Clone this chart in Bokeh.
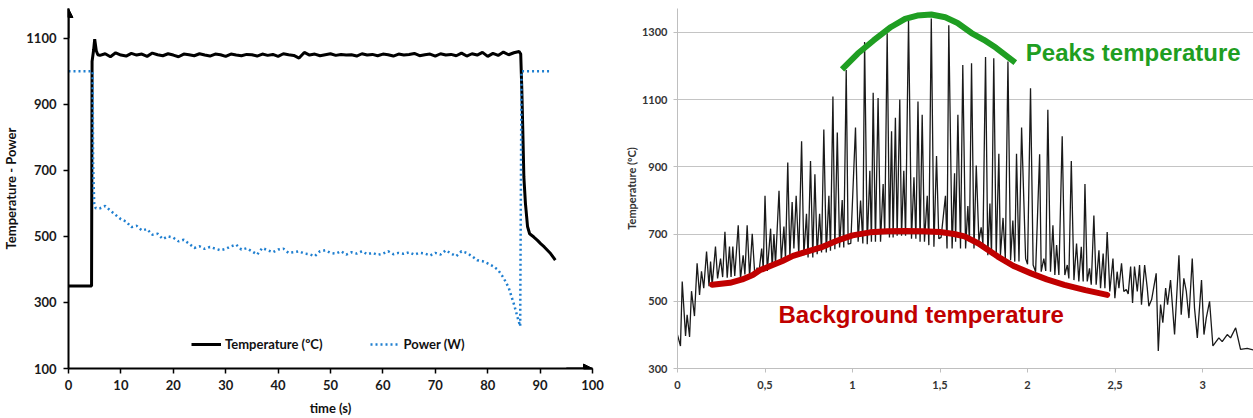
from bokeh.plotting import figure
from bokeh.layouts import row
from bokeh.models import FixedTicker, Arrow, NormalHead, Label, Legend, LegendItem
from bokeh.embed import file_html
from bokeh.resources import INLINE

# ---------------- Left chart data ----------------
left_x_ticks = [0, 10, 20, 30, 40, 50, 60, 70, 80, 90, 100]
left_y_ticks = [100, 300, 500, 700, 900, 1100]

temp_t = ([0, 4.4, 4.5, 4.8, 5.0, 5.3, 5.6]
          + list(range(6, 87))
          + [86.3, 86.5, 86.7, 86.9, 87.2, 87.6, 88.0, 88.8, 89.5, 90.1, 90.8, 91.4, 92.0, 92.6, 92.9])
temp_v = ([350, 350, 1030, 1065, 1097, 1062, 1050]
          + [1048, 1053, 1044, 1056, 1049, 1046, 1054, 1049, 1052, 1045,
             1055, 1050, 1047, 1053, 1049, 1044, 1052, 1050, 1047, 1053,
             1049, 1046, 1052, 1050, 1045, 1052, 1049, 1047, 1051, 1050,
             1046, 1052, 1048, 1051, 1045, 1053, 1050, 1048, 1040, 1057,
             1049, 1052, 1047, 1050, 1053, 1048, 1051, 1049, 1050, 1046,
             1053, 1049, 1051, 1047, 1052, 1050, 1046, 1052, 1049, 1051,
             1054, 1047, 1050, 1052, 1046, 1053, 1049, 1051, 1047, 1055,
             1046, 1053, 1049, 1057, 1045, 1054, 1048, 1058, 1050, 1056,
             1060]
          + [1052, 950, 820, 680, 600, 530, 508, 498, 488, 478, 468, 458, 448, 435, 428])

pow_t = ([0, 4.6, 4.7, 4.9, 5.2]
         + list(range(6, 86))
         + [85.7, 86.2, 86.45, 92.1])
pow_v = ([1000, 1000, 720, 600, 585]
         + [585, 592, 578, 565, 552, 545, 528, 532, 518, 522,
            505, 508, 492, 500, 496, 485, 490, 478, 465, 470,
            462, 468, 463, 458, 462, 470, 475, 460, 464, 455,
            445, 465, 458, 452, 460, 463, 450, 452, 455, 448,
            446, 440, 455, 458, 450, 448, 455, 445, 452, 448,
            455, 446, 450, 444, 448, 455, 446, 450, 447, 452,
            445, 450, 448, 442, 450, 445, 458, 448, 440, 455,
            450, 440, 428, 425, 418, 410, 398, 375, 345, 295]
         + [255, 228, 1000, 1000])

# ---------------- Right chart data ----------------
right_x_ticks = [0, 0.5, 1, 1.5, 2, 2.5, 3]
right_x_labels = ["0", "0,5", "1", "1,5", "2", "2,5", "3"]
right_y_ticks = [300, 500, 700, 900, 1100, 1300]

sig = [
    (0.000, 400), (0.017, 367), (0.027, 559), (0.046, 397), (0.055, 460), (0.069, 394),
    (0.080, 530), (0.097, 456), (0.112, 613), (0.126, 519), (0.137, 589), (0.150, 539),
    (0.166, 648), (0.180, 545), (0.189, 618), (0.198, 548), (0.217, 663), (0.229, 568),
    (0.246, 627), (0.258, 572), (0.271, 707), (0.284, 570), (0.297, 663), (0.306, 572),
    (0.316, 663), (0.327, 575), (0.347, 726), (0.360, 567), (0.375, 637), (0.385, 580),
    (0.398, 726), (0.412, 572), (0.427, 701), (0.442, 575), (0.455, 600), (0.465, 585),
    (0.481, 657), (0.490, 595), (0.500, 814), (0.513, 590), (0.532, 716), (0.541, 600),
    (0.551, 700), (0.560, 610), (0.580, 829), (0.593, 620), (0.608, 722), (0.617, 625),
    (0.630, 913), (0.642, 630), (0.655, 795), (0.665, 657), (0.678, 814), (0.693, 637),
    (0.709, 976), (0.722, 637), (0.737, 760), (0.746, 630), (0.760, 917), (0.773, 630),
    (0.785, 878), (0.798, 640), (0.812, 760), (0.823, 645), (0.836, 1011), (0.850, 645),
    (0.865, 814), (0.874, 650), (0.888, 1109), (0.899, 655), (0.913, 1002), (0.926, 660),
    (0.941, 801), (0.950, 660), (0.964, 1188), (0.975, 670), (0.990, 672), (1.017, 1017),
    (1.032, 677), (1.046, 800), (1.059, 672), (1.069, 1271), (1.084, 670), (1.099, 888),
    (1.108, 677), (1.118, 1120), (1.131, 677), (1.146, 1105), (1.160, 677), (1.175, 849),
    (1.184, 700), (1.198, 1297), (1.211, 690), (1.223, 1006), (1.232, 690), (1.245, 1046),
    (1.255, 695), (1.270, 1100), (1.280, 695), (1.293, 888), (1.303, 695), (1.320, 1335),
    (1.337, 686), (1.351, 869), (1.362, 686), (1.374, 1094), (1.386, 677), (1.398, 1055),
    (1.411, 677), (1.427, 814), (1.436, 667), (1.450, 1341), (1.465, 662), (1.480, 932),
    (1.493, 686), (1.506, 690), (1.531, 814), (1.540, 657), (1.550, 1321), (1.569, 657),
    (1.583, 881), (1.589, 677), (1.602, 1055), (1.617, 657), (1.630, 1203), (1.646, 657),
    (1.659, 783), (1.668, 677), (1.680, 1208), (1.694, 657), (1.707, 904), (1.722, 680),
    (1.735, 720), (1.745, 670), (1.760, 1227), (1.773, 637), (1.785, 791), (1.794, 637),
    (1.807, 1223), (1.821, 637), (1.836, 939), (1.845, 637), (1.860, 748), (1.873, 627),
    (1.888, 1213), (1.903, 622), (1.916, 740), (1.927, 618), (1.937, 939), (1.951, 618),
    (1.966, 1017), (1.989, 627), (2.000, 610), (2.017, 1134), (2.032, 608), (2.046, 588),
    (2.069, 937), (2.078, 588), (2.093, 627), (2.104, 590), (2.116, 1070), (2.131, 588),
    (2.145, 726), (2.156, 578), (2.166, 667), (2.179, 578), (2.198, 991), (2.213, 578),
    (2.227, 608), (2.236, 568), (2.250, 917), (2.265, 563), (2.280, 672), (2.293, 559),
    (2.307, 662), (2.318, 559), (2.328, 849), (2.341, 559), (2.354, 598), (2.364, 549),
    (2.379, 755), (2.392, 549), (2.408, 652), (2.417, 539), (2.432, 642), (2.442, 539),
    (2.455, 706), (2.470, 529), (2.488, 627), (2.499, 509), (2.512, 588), (2.522, 539),
    (2.537, 613), (2.550, 529), (2.564, 535), (2.575, 522), (2.589, 603), (2.600, 495),
    (2.611, 603), (2.627, 529), (2.640, 608), (2.651, 490), (2.669, 608), (2.684, 539),
    (2.693, 485), (2.709, 505), (2.735, 583), (2.747, 352), (2.760, 490), (2.773, 436),
    (2.789, 539), (2.800, 490), (2.817, 563), (2.840, 401), (2.865, 637), (2.878, 460),
    (2.893, 568), (2.907, 530), (2.922, 450), (2.941, 627), (2.954, 480), (2.970, 391),
    (2.994, 563), (3.008, 401), (3.021, 450), (3.040, 500), (3.059, 367), (3.093, 391),
    (3.112, 380), (3.141, 401), (3.160, 391), (3.189, 421), (3.217, 357), (3.255, 360),
    (3.290, 355),
]
sig_t = [a for a, b in sig]
sig_v = [b for a, b in sig]

peak_t = [0.94, 1.03, 1.12, 1.22, 1.30, 1.37, 1.45, 1.53, 1.60, 1.68, 1.75, 1.82, 1.93]
peak_v = [1190, 1237, 1276, 1316, 1340, 1350, 1353, 1345, 1328, 1298, 1278, 1254, 1210]

bg_t = [0.198, 0.30, 0.37, 0.43, 0.47, 0.53, 0.60, 0.66, 0.72, 0.82, 0.91, 1.00, 1.10,
        1.20, 1.30, 1.40, 1.50, 1.58, 1.64, 1.72, 1.83, 1.92, 2.02, 2.11, 2.21, 2.33, 2.455]
bg_v = [549, 555, 565, 578, 592, 605, 620, 635, 645, 660, 680, 696, 705,
        708, 709, 708, 706, 700, 693, 672, 633, 605, 583, 565, 549, 533, 519]

FONT = "Lato"

# ---------------- Left figure ----------------
p1 = figure(width=610, height=418, x_range=(0, 100), y_range=(100, 1190),
            output_backend="svg", toolbar_location=None,
            min_border_left=67, min_border_right=18, min_border_top=8, min_border_bottom=49)
p1.outline_line_color = None
p1.grid.visible = False
for ax in (p1.xaxis[0], p1.yaxis[0]):
    ax.axis_line_width = 2
    ax.axis_line_color = "black"
    ax.major_tick_line_color = "black"
    ax.major_tick_line_width = 1.5
    ax.major_tick_out = 5
    ax.major_tick_in = 0
    ax.minor_tick_out = 0
    ax.minor_tick_in = 0
    ax.major_label_text_font = FONT
    ax.major_label_text_font_style = "bold"
    ax.major_label_text_font_size = "13px"
    ax.major_label_text_color = "#1a1a1a"
    ax.axis_label_text_font = FONT
    ax.axis_label_text_font_style = "bold"
    ax.axis_label_text_font_size = "13px"
    ax.axis_label_text_color = "#111111"
p1.xaxis.ticker = FixedTicker(ticks=left_x_ticks)
p1.yaxis.ticker = FixedTicker(ticks=left_y_ticks)
p1.xaxis.axis_label = "time (s)"
p1.yaxis.axis_label = "Temperature - Power"
p1.xaxis.major_label_standoff = 6
p1.yaxis.major_label_standoff = 7
p1.xaxis.axis_label_standoff = 7
p1.yaxis.axis_label_standoff = 4

r_temp = p1.line(temp_t, temp_v, line_color="black", line_width=3)
r_pow = p1.line(pow_t, pow_v, line_color="#1f7fd0", line_width=2.5, line_dash="2 3")

p1.add_layout(Arrow(end=NormalHead(size=9, fill_color="black", line_color="black"),
                    x_start=0, y_start=1100, x_end=0, y_end=1190,
                    line_width=2, line_color="black"))
p1.add_layout(Arrow(end=NormalHead(size=9, fill_color="black", line_color="black"),
                    x_start=95, y_start=100, x_end=100, y_end=100,
                    line_width=2, line_color="black"))

legend = Legend(items=[LegendItem(label="Temperature (ºC)", renderers=[r_temp]),
                       LegendItem(label="Power (W)", renderers=[r_pow])],
                orientation="horizontal", location=(123, 14),
                border_line_color=None, background_fill_alpha=0,
                padding=0, margin=0, spacing=47, glyph_width=30, label_standoff=4,
                label_text_font=FONT, label_text_font_style="bold",
                label_text_font_size="13px", label_text_color="#111111")
p1.add_layout(legend)

# ---------------- Right figure ----------------
# frame shares top/bottom with left (row aligns frames): top 8px, bottom 369px
p2 = figure(width=643, height=418, x_range=(0, 3.291), y_range=(300, 1371),
            output_backend="svg", toolbar_location=None,
            min_border_left=67, min_border_right=0, min_border_top=8, min_border_bottom=49)
p2.outline_line_color = None
p2.xgrid.visible = False
p2.ygrid.grid_line_color = "#c4c4c4"
p2.ygrid.grid_line_width = 1
for ax in (p2.xaxis[0], p2.yaxis[0]):
    ax.axis_line_color = "#bfbfbf"
    ax.axis_line_width = 1
    ax.major_tick_line_color = "#bfbfbf"
    ax.major_tick_out = 4
    ax.major_tick_in = 0
    ax.minor_tick_out = 0
    ax.minor_tick_in = 0
    ax.major_label_text_font = FONT
    ax.major_label_text_font_style = "bold"
    ax.major_label_text_font_size = "11px"
    ax.major_label_text_color = "#333333"
p2.xaxis.ticker = FixedTicker(ticks=right_x_ticks)
p2.xaxis.major_label_overrides = {t: s for t, s in zip(right_x_ticks, right_x_labels)}
p2.yaxis.ticker = FixedTicker(ticks=right_y_ticks)
p2.ygrid.ticker = FixedTicker(ticks=right_y_ticks)
p2.xaxis.major_label_standoff = 8
p2.yaxis.major_label_standoff = 6
p2.yaxis.axis_label = "Temperature (ºC)"
p2.yaxis.axis_label_text_font = FONT
p2.yaxis.axis_label_text_font_style = "bold"
p2.yaxis.axis_label_text_font_size = "11px"
p2.yaxis.axis_label_text_color = "#333333"
p2.yaxis.axis_label_standoff = 1

p2.line(sig_t, sig_v, line_color="#1a1a1a", line_width=1.3)
p2.line(bg_t, bg_v, line_color="#c00000", line_width=6, line_cap="round")
p2.line(peak_t, peak_v, line_color="#1f9e22", line_width=6)

p2.add_layout(Label(x=1.99, y=1241, text="Peaks temperature",
                    text_font="Liberation Sans", text_font_style="bold",
                    text_font_size="24px", text_color="#1f9e22",
                    text_baseline="alphabetic", text_align="left"))
p2.add_layout(Label(x=0.577, y=460, text="Background temperature",
                    text_font="Liberation Sans", text_font_style="bold",
                    text_font_size="24px", text_color="#c00000",
                    text_baseline="alphabetic", text_align="left"))
p2.add_layout(Label(x=1.76, y=-36, y_units="screen", text="time (s)",
                    text_font=FONT, text_font_style="bold", text_font_size="11px",
                    text_color="#333333", text_align="center", text_baseline="middle"))

layout = row(p1, p2)
open("out.html", "w").write(file_html(layout, INLINE))
